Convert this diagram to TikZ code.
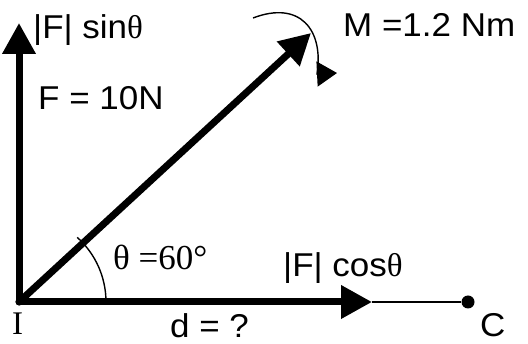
\documentclass[tikz,border=0pt]{standalone}
\usepackage{fontspec}
\setmainfont{Liberation Sans}[FakeStretch=1.06]
\newfontfamily\serif{Liberation Serif}
\usetikzlibrary{arrows.meta}

\begin{document}
\begin{tikzpicture}[x=1pt, y=-1pt,
    force/.style={line width=7pt, line cap=round,
                  -{Triangle[length=31pt,width=32pt]}},
    guide/.style={line width=2.5pt},
    thinarc/.style={line width=1.4pt},
    lbl/.style={anchor=base west, inner sep=0pt, font=\fontsize{33}{38}\selectfont},
    slbl/.style={lbl, font=\fontsize{35}{40}\selectfont\serif},
    >={Triangle[length=20pt,width=25pt]}]
  \useasboundingbox (0,0) rectangle (528,344);
  % points
  \coordinate (I) at (19,302);
  \coordinate (ftip) at (311,33);
  \coordinate (vtip) at (19,23);
  \coordinate (htip) at (372,302);
  \node[circle, fill, inner sep=0pt, minimum size=13pt] (C) at (468,302) {};
  \coordinate (m0) at (253,18);
  \coordinate (m2) at (317,74);
  \coordinate (m1) at (337,73);
  % force and components
  \draw[guide] (htip) -- (C);
  \draw[force] (I) -- (vtip);
  \draw[force] (I) -- (htip);
  \draw[force] (I) -- (ftip);
  \draw[thinarc] (I) ++(0:87) arc[start angle=0, end angle=-48, radius=87];
  % moment
  \draw[thinarc, ->] (m0) .. controls (300,0) and (324,30) .. (m2) -- (m1);
  % labels
  \node[lbl] (sin) at (33,39) {|F| sin{\serif θ}};
  \node[lbl] (F) at (38,110) {F = 10N};
  \node[lbl] (M) at (343,37) {M =1.2 Nm};
  \node[slbl] (ang) at (113,270) {θ =60°};
  \node[lbl] (cos) at (283,277) {|F| cos{\serif θ}};
  \node[slbl, font=\fontsize{33}{38}\selectfont\serif] (Ilbl) at (12,335) {I};
  \node[lbl] (d) at (170,338) {d = ?};
  \node[lbl] (Clbl) at (480,337) {C};
\end{tikzpicture}
\end{document}
